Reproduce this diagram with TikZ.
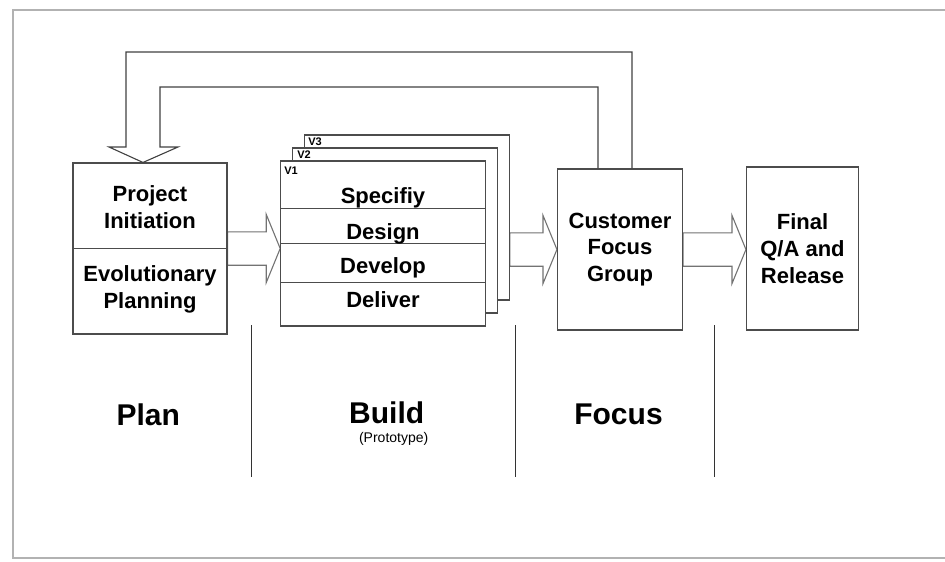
\documentclass[tikz,border=0pt]{standalone}
\usepackage{fontspec}
\setmainfont{Liberation Sans}
\usetikzlibrary{
  calc,
  positioning,
  backgrounds
}

\begin{document}
\begin{tikzpicture}[x=1pt,y=-1pt,
      box/.style={
         rectangle,
         draw=black!70,
         line width=1.1pt,
         fill=white,
         inner sep=0pt,
         align=center,
         font=\fontsize{22}{26.7}\selectfont\bfseries
      },
      page/.style={box, minimum width=204.5, minimum height=165},
      boxtext/.style={align=center, inner sep=0pt,
         font=\fontsize{22}{27}\selectfont\bfseries},
      row/.style={anchor=base, inner sep=0pt,
         font=\fontsize{22}{26.7}\selectfont\bfseries},
      vtag/.style={anchor=base west, inner sep=0pt,
         font=\fontsize{11}{13}\selectfont\bfseries},
      phase/.style={anchor=base, inner sep=0pt,
         font=\fontsize{30}{36}\selectfont\bfseries},
      rowline/.style={draw=black!70, line width=1.1pt},
      divider/.style={draw=black!80, line width=1pt},
      feedback/.style={draw=black!75, line width=1.1pt},
      block arrow/.style={draw=black!55, line width=1.1pt, fill=white,
         to path={let \p1=(\tikztostart), \p2=(\tikztotarget) in
            (\x1,{\y1+16.7pt}) -- ({\x2-14pt},{\y1+16.7pt})
            -- ({\x2-14pt},{\y1+34.2pt}) -- (\x2,\y1)
            -- ({\x2-14pt},{\y1-34.2pt}) -- ({\x2-14pt},{\y1-16.7pt})
            -- (\x1,{\y1-16.7pt}) -- cycle}}
    ]
    \useasboundingbox (0,0) rectangle (945,562);
    % page frame
    \draw[draw=black!30, line width=2pt] (950,10) -- (13,10) -- (13,558) -- (950,558);

    % plan
    \node (plan) [box, minimum width=154, minimum height=171] at (150,248.5) {};
    \draw[rowline] (plan.west) -- (plan.east);
    \node (pinit) [boxtext] at (150,207) {Project\\Initiation};
    \node (pevol) [boxtext] at (150,289) {Evolutionary\\Planning};

    % build, three versions
    \node (v3) [page] at (407,217.5) {};
    \node (v2) [page] at ($(v3)+(-12,13)$) {};
    \node (v1) [page] at ($(v2)+(-12,13)$) {};
    \node (t3) [vtag] at ([shift={(4,11)}]v3.north west) {V3};
    \node (t2) [vtag] at ([shift={(5,11)}]v2.north west) {V2};
    \node (t1) [vtag] at ([shift={(4,14.5)}]v1.north west) {V1};
    \foreach \d in {47.6,83.3,122.3}
       \draw[rowline] ([yshift=-\d pt]v1.north west) -- ([yshift=-\d pt]v1.north east);
    \node (spec) [row] at (383,203.3) {Specifiy};
    \node (desi) [row] at (383,239) {Design};
    \node (deve) [row] at (383,273.3) {Develop};
    \node (deli) [row] at (383,307.7) {Deliver};

    % focus and release
    \node (customer) [box, minimum width=125, minimum height=161] at (620,249.5)
       {Customer\\Focus\\Group};
    \node (final) [box, minimum width=112, minimum height=163] at (802.5,248.5)
       {Final\\Q/A and\\Release};

    \begin{scope}[on background layer]
       \draw[block arrow] (plan.east) to (v1.west |- plan.east);
       \draw[block arrow] (v3.east |- customer.west) to (customer.west);
       \draw[block arrow] (customer.east) to (final.west);
    \end{scope}

    % feedback loop
    \draw[feedback] ([xshift=12pt]customer.north) |- (126,52) -- (126,147)
       -- (109,147) -- ([xshift=-7pt]plan.north) -- (178,147) -- (160,147)
       -- (160,87) -| ([xshift=-22pt]customer.north);

    % phases
    \foreach \x in {251,515.7,714}
       \draw[divider] (\x,325) -- (\x,477);
    \node (lplan) [phase] at (148.3,425) {Plan};
    \node (lbuild) [phase] at (386.7,423) {Build};
    \node (lproto) [anchor=base, inner sep=0pt, font=\fontsize{14}{16}\selectfont]
       at (393.7,442.7) {(Prototype)};
    \node (lfocus) [phase] at (618.5,424) {Focus};
\end{tikzpicture}
\end{document}
